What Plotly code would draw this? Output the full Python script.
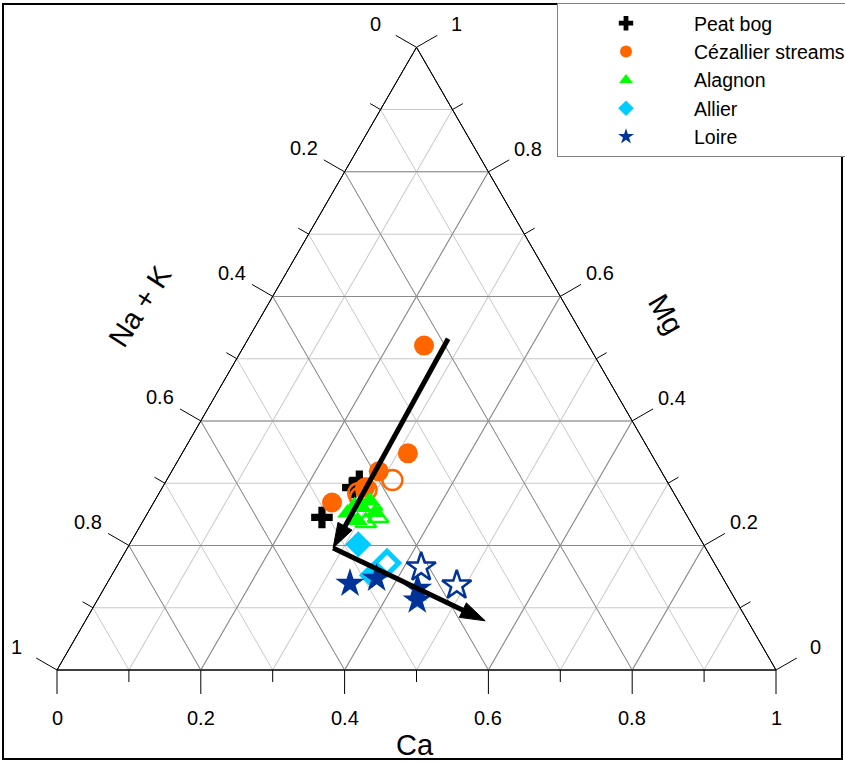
import math
import plotly.graph_objects as go

W, H = 845, 762

# ---------------- data (fractions) : Ca, Mg, Na+K ----------------
peat_ca = [0.246, 0.265, 0.269]
peat_mg = [0.245, 0.293, 0.303]
peat_nak = [0.509, 0.442, 0.428]

cez_fill_ca = [0.250, 0.314, 0.288, 0.248, 0.282]
cez_fill_mg = [0.521, 0.348, 0.319, 0.269, 0.293]
cez_fill_nak = [0.229, 0.338, 0.393, 0.483, 0.425]
cez_open_ca = [0.314, 0.277, 0.286, 0.283]
cez_open_mg = [0.305, 0.284, 0.289, 0.277]
cez_open_nak = [0.381, 0.439, 0.425, 0.440]

ala_fill_ca = [0.278, 0.282, 0.294, 0.299, 0.298, 0.316]
ala_fill_mg = [0.252, 0.264, 0.261, 0.272, 0.240, 0.253]
ala_fill_nak = [0.470, 0.454, 0.445, 0.429, 0.462, 0.431]
ala_open_ca = [0.324, 0.311, 0.306]
ala_open_mg = [0.245, 0.237, 0.264]
ala_open_nak = [0.431, 0.452, 0.430]

all_fill_ca = [0.318, 0.362]
all_fill_mg = [0.202, 0.152]
all_fill_nak = [0.480, 0.486]
all_open_ca = [0.373]
all_open_mg = [0.172]
all_open_nak = [0.455]

loi_fill_ca = [0.338, 0.371, 0.436, 0.445]
loi_fill_mg = [0.139, 0.147, 0.131, 0.112]
loi_fill_nak = [0.523, 0.482, 0.433, 0.443]
loi_open_ca = [0.424, 0.488]
loi_open_mg = [0.165, 0.136]
loi_open_nak = [0.411, 0.376]

arrow1_ca = [0.278, 0.286]
arrow1_mg = [0.532, 0.196]
arrow1_nak = [0.190, 0.518]
arrow2_ca = [0.286, 0.556]
arrow2_mg = [0.196, 0.079]
arrow2_nak = [0.518, 0.365]

major_vals = [0, 0.2, 0.4, 0.6, 0.8, 1]
major_labels = ["0", "0.2", "0.4", "0.6", "0.8", "1"]
minor_vals = [0.1, 0.3, 0.5, 0.7, 0.9]
grid_minor = [0, 0.1, 0.2, 0.3, 0.4, 0.5, 0.6, 0.7, 0.8, 0.9, 1]

FONT = "Liberation Sans, Arial, sans-serif"

# ---------------- geometry of the ternary subplot (px) ----------------
X0, X1, YB = 57, 776, 670
TRI_W = X1 - X0
TRI_H = TRI_W * math.sqrt(3) / 2
dom_x = [X0 / W, X1 / W]
dom_y = [1 - YB / H, 1 - (YB - TRI_H) / H]


def to_paper(ca, mg):
    """Map a ternary composition to paper coordinates of the ternary domain."""
    x = X0 + TRI_W * (ca + mg / 2)
    y = YB - TRI_H * mg
    return x / W, 1 - y / H


def edge_point(edge, v, d):
    """(ca, mg) of a point d px outside the given edge at axis value v."""
    e = d / TRI_H
    if edge == "left":      # Ca = 0 edge, value = Na+K
        return (-e, 1 - v + e / 2)
    if edge == "bottom":    # Mg = 0 edge, value = Ca
        return (v + e / 2, -e)
    return (1 - v + e / 2, v + e / 2)   # right: Na+K = 0 edge, value = Mg


fig = go.Figure()

# empty trace so the minor-grid subplot is drawn
fig.add_trace(go.Scatterternary(a=[], b=[], c=[], subplot="ternary",
                                showlegend=False, hoverinfo="skip"))


# ---------------- data ----------------
def add_group(name, ca, mg, nak, symbol, color, size, legend, lw=0):
    fig.add_trace(go.Scatterternary(
        a=mg, b=nak, c=ca, mode="markers", name=name, subplot="ternary2",
        showlegend=legend,
        marker=dict(symbol=symbol, size=size, color=color, opacity=1,
                    line=dict(width=lw, color=color)),
    ))


add_group("Peat bog", peat_ca, peat_mg, peat_nak, "cross", "black", 18, True)
add_group("Cézallier streams", cez_fill_ca, cez_fill_mg, cez_fill_nak, "circle", "#FF6600", 20, True)
add_group("Cézallier streams", cez_open_ca, cez_open_mg, cez_open_nak, "circle-open", "#FF6600", 20, False, lw=2.5)
add_group("Alagnon", ala_fill_ca, ala_fill_mg, ala_fill_nak, "triangle-up", "#00FF00", 18, True)
add_group("Alagnon", ala_open_ca, ala_open_mg, ala_open_nak, "triangle-up-open", "#00FF00", 18, False, lw=2.5)
add_group("Allier", all_fill_ca, all_fill_mg, all_fill_nak, "diamond", "#00CCFF", 20, True)
add_group("Allier", all_open_ca, all_open_mg, all_open_nak, "diamond-open", "#00CCFF", 18, False, lw=5)
add_group("Loire", loi_fill_ca, loi_fill_mg, loi_fill_nak, "star", "#003399", 22, True)
add_group("Loire", loi_open_ca, loi_open_mg, loi_open_nak, "star-open", "#003399", 22, False, lw=2.5)

for ca, mg, nak in [(arrow1_ca, arrow1_mg, arrow1_nak), (arrow2_ca, arrow2_mg, arrow2_nak)]:
    fig.add_trace(go.Scatterternary(
        a=mg, b=nak, c=ca, mode="lines+markers", subplot="ternary2",
        showlegend=False, hoverinfo="skip",
        line=dict(color="black", width=5),
        marker=dict(symbol="arrow", size=[0, 26], angleref="previous", color="black",
                    opacity=1, line=dict(width=1, color="black")),
    ))

# ---------------- perpendicular ticks and tick labels ----------------
shapes = [dict(type="rect", xref="paper", yref="paper",
               x0=3 / W, x1=842 / W, y0=1 - 759 / H, y1=1 - 4 / H,
               line=dict(color="black", width=2))]
annotations = []
LABEL_DIST = {"left": 47, "bottom": 48, "right": 46}
for edge in ["left", "bottom", "right"]:
    for vals, length in [(major_vals, 24), (minor_vals, 12)]:
        for v in vals:
            xa, ya = to_paper(*edge_point(edge, v, 0))
            xb, yb = to_paper(*edge_point(edge, v, length))
            shapes.append(dict(type="line", xref="paper", yref="paper",
                               x0=xa, y0=ya, x1=xb, y1=yb,
                               line=dict(color="black", width=1)))
    for v, lab in zip(major_vals, major_labels):
        xl, yl = to_paper(*edge_point(edge, v, LABEL_DIST[edge]))
        annotations.append(dict(text=lab, x=xl, y=yl, xref="paper", yref="paper",
                                xanchor="center", yanchor="middle", showarrow=False,
                                font=dict(family=FONT, size=20, color="black")))

annotations += [
    dict(text="Ca", x=415 / W, y=1 - 745 / H, xref="paper", yref="paper",
         xanchor="center", yanchor="middle",
         showarrow=False, font=dict(family=FONT, size=29)),
    dict(text="Na + K", x=140 / W, y=1 - 306 / H, xref="paper", yref="paper",
         xanchor="center", yanchor="middle",
         showarrow=False, textangle=-57, font=dict(family=FONT, size=29)),
    dict(text="Mg", x=666 / W, y=1 - 314 / H, xref="paper", yref="paper",
         xanchor="center", yanchor="middle",
         showarrow=False, textangle=60, font=dict(family=FONT, size=29)),
]


# ---------------- layout ----------------
def axis(vals, color):
    return dict(tickvals=vals, ticks="", showticklabels=False,
                showline=True, linecolor="black", linewidth=1,
                showgrid=True, gridwidth=1, gridcolor=color, title=dict(text=""))


fig.update_layout(
    width=W, height=H,
    margin=dict(l=0, r=0, t=0, b=0, autoexpand=False),
    paper_bgcolor="white",
    font=dict(family=FONT, color="black"),
    ternary=dict(domain=dict(x=dom_x, y=dom_y), sum=1, bgcolor="white",
                 aaxis=axis(grid_minor, "#c8c8c8"), baxis=axis(grid_minor, "#c8c8c8"),
                 caxis=axis(grid_minor, "#c8c8c8")),
    ternary2=dict(domain=dict(x=dom_x, y=dom_y), sum=1, bgcolor="rgba(0,0,0,0)",
                  aaxis=axis(major_vals, "#8a8a8a"), baxis=axis(major_vals, "#8a8a8a"),
                  caxis=axis(major_vals, "#8a8a8a")),
    legend=dict(x=557 / W, y=1 - 3 / H, xanchor="left", yanchor="top",
                bgcolor="white", bordercolor="#808080", borderwidth=1,
                font=dict(family=FONT, size=19.5, color="black"),
                itemsizing="constant", itemwidth=126),
    annotations=annotations,
    shapes=shapes,
)

fig.write_html("out.html", config={"displayModeBar": False},
               post_script="document.body.style.margin='0';document.body.style.overflow='hidden';")
